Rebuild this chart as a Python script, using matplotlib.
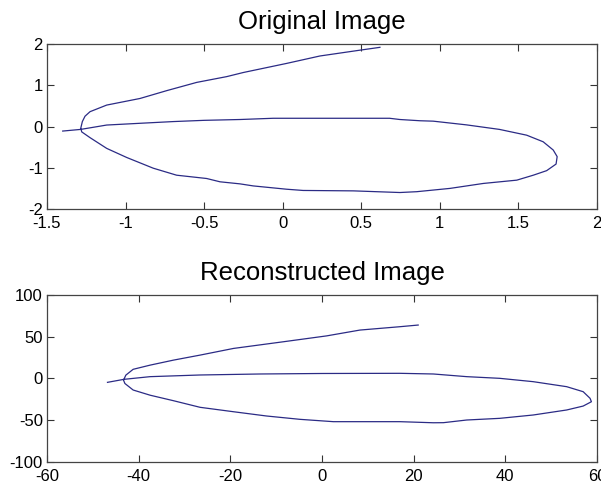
import numpy as np
import matplotlib.pyplot as plt

plt.rcParams['font.family'] = ['Liberation Sans', 'DejaVu Sans']

# original contour
orig_x = [-1.40, -1.286, -1.12, -0.90, -0.696, -0.50, -0.272, -0.06, 0.20, 0.45, 0.68,
          0.746, 0.874, 0.958, 1.17, 1.38, 1.553, 1.658, 1.722, 1.747, 1.74, 1.68, 1.595,
          1.49, 1.277, 1.065, 0.853, 0.746, 0.45, 0.13, 0.025, -0.187, -0.272, -0.399,
          -0.484, -0.675, -0.824, -0.993, -1.12, -1.226, -1.279, -1.285, -1.275, -1.258,
          -1.226, -1.12, -0.908, -0.738, -0.547, -0.356, -0.25, 0.025, 0.237, 0.49, 0.619]
orig_y = [-0.11, -0.07, 0.036, 0.08, 0.12, 0.15, 0.17, 0.20, 0.20, 0.20, 0.20,
          0.17, 0.14, 0.13, 0.04, -0.07, -0.21, -0.37, -0.57, -0.73, -0.91, -1.07, -1.18,
          -1.30, -1.38, -1.50, -1.58, -1.60, -1.56, -1.55, -1.52, -1.44, -1.39, -1.34,
          -1.26, -1.18, -1.01, -0.75, -0.53, -0.27, -0.13, -0.04, 0.12, 0.25,
          0.36, 0.52, 0.68, 0.87, 1.07, 1.21, 1.31, 1.53, 1.71, 1.85, 1.92]

# reconstructed contour
rec_x = [-46.8, -43.2, -37.5, -26.6, -13.5, 0.0, 17.0, 24.3, 31.6, 38.8, 46.1, 53.4,
         57.0, 58.5, 58.8, 57.0, 53.4, 46.1, 38.8, 31.6, 26.5, 24.3, 17.0, 2.5, -4.8,
         -12.1, -19.3, -26.6, -32.4, -37.5, -41.2, -43.0, -43.3, -42.8, -41.2, -37.5,
         -32.4, -26.6, -19.3, -8.4, 1.0, 8.3, 17.0, 21.0]
rec_y = [-4.6, -1.0, 2.2, 4.2, 5.4, 6.0, 6.2, 5.4, 2.2, 0.2, -3.8, -9.8,
         -15.8, -23.7, -27.8, -33.0, -37.7, -43.7, -47.7, -49.7, -52.9, -53.0, -51.7, -51.7, -48.9,
         -44.9, -39.8, -34.5, -26.6, -20.0, -13.8, -6.0, -2.0, 4.0, 11.0, 16.0,
         22.0, 28.0, 36.0, 44.0, 51.0, 58.0, 62.0, 64.0]

orig_xticks = [-1.5, -1, -0.5, 0, 0.5, 1, 1.5, 2]
orig_yticks = [-2, -1, 0, 1, 2]
rec_xticks = [-60, -40, -20, 0, 20, 40, 60]
rec_yticks = [-100, -50, 0, 50, 100]

line_col = '#2b2b85'

fig = plt.figure(figsize=(6.01, 4.87), dpi=100)
ax1 = fig.add_axes([0.0782, 0.5708, 0.915, 0.3388])
ax2 = fig.add_axes([0.0782, 0.0513, 0.915, 0.343])

def style(ax, xt, yt):
    ax.set_xlim(xt[0], xt[-1])
    ax.set_ylim(yt[0], yt[-1])
    ax.set_xticks(xt)
    ax.set_yticks(yt)
    ax.set_xticklabels(['%g' % v for v in xt])
    ax.set_yticklabels(['%g' % v for v in yt])
    ax.tick_params(direction='in', length=5, width=0.8, top=True, right=True,
                   labelsize=12, colors='#333333', labelcolor='black')
    ax.tick_params(axis='x', pad=5)
    ax.tick_params(axis='y', pad=3)
    for s in ax.spines.values():
        s.set_color('#444444')
        s.set_linewidth(0.9)

ax1.plot(orig_x, orig_y, color=line_col, lw=0.9)
style(ax1, orig_xticks, orig_yticks)
ax1.set_title('Original Image', fontsize=18.5, pad=11)

ax2.plot(rec_x, rec_y, color=line_col, lw=0.9)
style(ax2, rec_xticks, rec_yticks)
ax2.set_title('Reconstructed Image', fontsize=18.5, pad=11)

fig.savefig('out.png', dpi=100)
